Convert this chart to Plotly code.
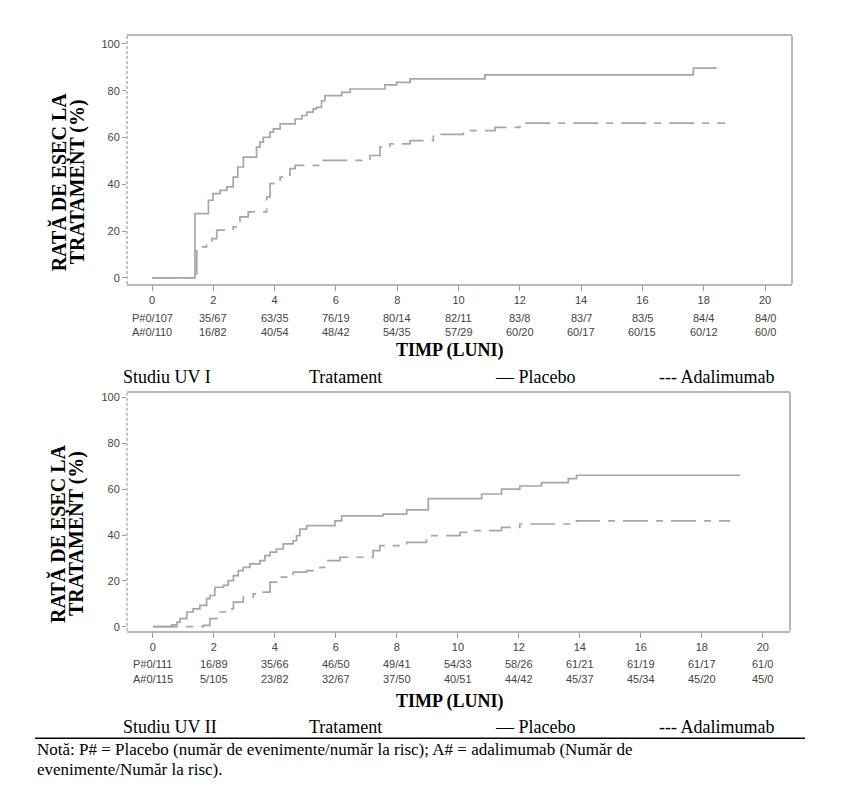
import plotly.graph_objects as go

W, H = 842, 802

# ---------------- data ----------------
months = [0, 2, 4, 6, 8, 10, 12, 14, 16, 18, 20]

# Study UV I
uv1_plac_t = [0, 1.40, 1.84, 1.99, 2.22, 2.44, 2.65, 2.80, 2.98, 3.41, 3.52, 3.63, 3.85, 3.96, 4.18, 4.67, 4.89,
              5.05, 5.26, 5.37, 5.53, 5.64, 6.19, 6.46, 7.60, 7.98, 8.42, 10.86, 17.66, 18.42]
uv1_plac_v = [0, 27.5, 33.2, 36.0, 37.4, 38.9, 43.1, 47.4, 51.6, 55.9, 58.0, 60.1, 62.3, 63.7, 65.8, 67.9, 69.4,
              70.8, 72.2, 72.9, 75.7, 77.9, 79.3, 80.7, 82.5, 83.5, 85.0, 86.7, 89.6, 89.6]
uv1_ada_t = [0, 1.46, 1.78, 1.95, 2.11, 2.65, 2.87, 3.14, 3.74, 3.85, 4.18, 4.50, 4.67, 5.48, 7.11, 7.44, 7.76,
             8.42, 9.18, 10.16, 11.19, 12.0, 18.7]
uv1_ada_v = [0, 13.3, 14.7, 16.8, 20.4, 21.8, 26.1, 28.2, 34.5, 40.3, 43.1, 46.7, 48.1, 50.2, 52.3, 55.9, 57.3,
             58.7, 61.3, 62.9, 64.3, 66.1, 66.1]
uv1_risk_p = ["P#0/107", "35/67", "63/35", "76/19", "80/14", "82/11", "83/8", "83/7", "83/5", "84/4", "84/0"]
uv1_risk_a = ["A#0/110", "16/82", "40/54", "48/42", "54/35", "57/29", "60/20", "60/17", "60/15", "60/12", "60/0"]

# Study UV II
uv2_plac_t = [0, 0.61, 0.79, 0.89, 1.11, 1.32, 1.54, 1.76, 1.87, 2.03, 2.31, 2.47, 2.64, 2.80, 2.96, 3.18, 3.51,
              3.67, 3.84, 4.05, 4.27, 4.60, 4.71, 4.82, 5.04, 5.97, 6.19, 7.55, 8.32, 9.03, 10.78, 11.43, 12.03,
              12.74, 13.62, 13.89, 19.25]
uv2_plac_v = [0, 0.8, 2.0, 3.5, 6.4, 7.8, 9.3, 12.2, 13.6, 17.2, 18.0, 20.1, 22.3, 24.5, 25.9, 27.4, 28.8,
              31.0, 32.5, 33.9, 36.1, 37.5, 39.7, 42.6, 44.1, 46.2, 48.4, 49.1, 51.0, 55.9, 57.9, 60.0, 61.4,
              62.9, 64.6, 66.1, 66.1]
uv2_ada_t = [0, 1.65, 1.87, 2.09, 2.42, 2.64, 2.96, 3.29, 3.62, 3.84, 4.05, 4.60, 5.04, 5.48, 5.69, 6.13, 7.22,
             7.44, 8.32, 8.97, 10.07, 10.39, 11.43, 12.03, 13.72, 13.89, 18.93]
uv2_ada_v = [0, 0.6, 3.5, 6.4, 7.8, 10.7, 12.9, 14.3, 15.1, 19.4, 21.6, 23.8, 24.5, 25.9, 28.8, 30.3, 33.2,
             35.4, 36.8, 39.7, 41.2, 41.9, 43.3, 44.8, 45.5, 46.2, 46.2]
uv2_risk_p = ["P#0/111", "16/89", "35/66", "46/50", "49/41", "54/33", "58/26", "61/21", "61/19", "61/17", "61/0"]
uv2_risk_a = ["A#0/115", "5/105", "23/82", "32/67", "37/50", "40/51", "44/42", "45/37", "45/34", "45/20", "45/0"]

y_ticks = [0, 20, 40, 60, 80, 100]
y_title_1 = "RATĂ DE EȘEC LA"
y_title_2 = "TRATAMENT (%)"
x_title = "TIMP (LUNI)"
legend_row = ["Tratament", "— Placebo", "--- Adalimumab"]
study_names = ["Studiu UV I", "Studiu UV II"]
note_lines = ["Notă: P# = Placebo (număr de evenimente/număr la risc); A# = adalimumab (Număr de",
              "evenimente/Număr la risc)."]

# ---------------- helpers ----------------
def px(x):
    return x / W


def py(y):
    return 1 - y / H


LINE_COL = "#a6a6a6"
SANS = "Liberation Sans, Arial, sans-serif"
SERIF = "Liberation Serif, Times New Roman, serif"
TICK_FONT = dict(family=SANS, size=11, color="#444444")

fig = go.Figure()

panels = [
    dict(xa="x", ya="y", plac=(uv1_plac_t, uv1_plac_v), ada=(uv1_ada_t, uv1_ada_v),
         rp=uv1_risk_p, ra=uv1_risk_a, name=study_names[0],
         xdom=[127, 792], ydom=[35, 284], xr=[-0.816, 20.88], yr=[-2.55, 103.4],
         rows=[318, 332], xt=351, leg=377, yt=182),
    dict(xa="x2", ya="y2", plac=(uv2_plac_t, uv2_plac_v), ada=(uv2_ada_t, uv2_ada_v),
         rp=uv2_risk_p, ra=uv2_risk_a, name=study_names[1],
         xdom=[127, 790], ydom=[393, 632], xr=[-0.85, 20.89], yr=[-1.74, 102.2],
         rows=[665, 681], xt=703, leg=729, yt=535),
]

annotations = []
shapes = []
for i, p in enumerate(panels):
    fig.add_trace(go.Scatter(x=p["plac"][0], y=p["plac"][1], mode="lines", xaxis=p["xa"], yaxis=p["ya"],
                             line=dict(shape="hv", color=LINE_COL, width=1.7), showlegend=False,
                             hoverinfo="skip"))
    fig.add_trace(go.Scatter(x=p["ada"][0], y=p["ada"][1], mode="lines", xaxis=p["xa"], yaxis=p["ya"],
                             line=dict(shape="hv", color=LINE_COL, width=1.7, dash="25px,8px,7px,8px"),
                             showlegend=False, hoverinfo="skip"))
    sfx = "" if i == 0 else "2"
    fig.update_layout(**{
        "xaxis" + sfx: dict(domain=[px(p["xdom"][0]), px(p["xdom"][1])], range=p["xr"],
                            anchor="y" + sfx, tickvals=months, ticktext=[str(m) for m in months],
                            tickfont=TICK_FONT, ticks="outside", ticklen=5, tickcolor="#999",
                            showgrid=False, zeroline=False, showline=True, linecolor="#b8b8b8",
                            linewidth=2, mirror=True),
        "yaxis" + sfx: dict(domain=[py(p["ydom"][1]), py(p["ydom"][0])], range=p["yr"],
                            anchor="x" + sfx, tickvals=y_ticks, tickfont=TICK_FONT, ticks="outside",
                            ticklen=4, tickcolor="#999", showgrid=False, zeroline=False, showline=False),
    })
    # left dotted axis line and right frame line
    shapes.append(dict(type="line", xref=p["xa"] + " domain", yref=p["ya"] + " domain", x0=0, x1=0,
                       y0=0, y1=1, line=dict(color="#b0b0b0", width=1.5, dash="3px,2px")))
    shapes.append(dict(type="line", xref=p["xa"] + " domain", yref=p["ya"] + " domain", x0=1, x1=1,
                       y0=0, y1=1, line=dict(color="#b8b8b8", width=2)))
    # at-risk rows
    for row_vals, ry in ((p["rp"], p["rows"][0]), (p["ra"], p["rows"][1])):
        for m, txt in zip(months, row_vals):
            annotations.append(dict(x=m, y=py(ry), xref=p["xa"], yref="paper", text=txt, showarrow=False,
                                    font=TICK_FONT, xanchor="center", yanchor="middle"))
    # x title
    annotations.append(dict(x=px(450), y=py(p["xt"]), xref="paper", yref="paper", text="<b>" + x_title + "</b>",
                            showarrow=False, font=dict(family=SERIF, size=18, color="#000"),
                            xanchor="center", yanchor="middle"))
    # y title (two lines)
    for txt, xx in ((y_title_1, 59), (y_title_2, 77)):
        annotations.append(dict(x=px(xx), y=py(p["yt"]), xref="paper", yref="paper", text="<b>" + txt + "</b>",
                                showarrow=False, textangle=-90, font=dict(family=SERIF, size=20, color="#000"),
                                xanchor="center", yanchor="middle"))
    # legend row
    for txt, xx in ((p["name"], 121), (legend_row[0], 307), (legend_row[1], 493), (legend_row[2], 657)):
        annotations.append(dict(x=px(xx), y=py(p["leg"]), xref="paper", yref="paper", text=txt,
                                showarrow=False, font=dict(family=SERIF, size=18, color="#000"),
                                xanchor="left", yanchor="middle"))

# rule and note
shapes.append(dict(type="line", xref="paper", yref="paper", x0=px(35), x1=px(805), y0=py(740), y1=py(740),
                   line=dict(color="#000", width=1.5)))
for txt, yy in zip(note_lines, (751, 771)):
    annotations.append(dict(x=px(35), y=py(yy), xref="paper", yref="paper", text=txt, showarrow=False,
                            font=dict(family=SERIF, size=17, color="#000"), xanchor="left", yanchor="middle"))

fig.update_layout(width=W, height=H, margin=dict(l=0, r=0, t=0, b=0), plot_bgcolor="white",
                  paper_bgcolor="white", annotations=annotations, shapes=shapes, showlegend=False)

fig.write_html("out.html", config={"displayModeBar": False})
